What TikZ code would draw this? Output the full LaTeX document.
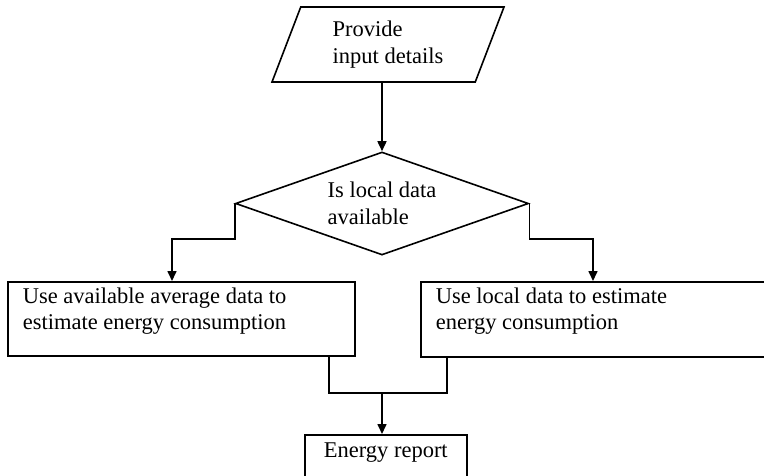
\documentclass[tikz,border=0pt]{standalone}
\usepackage{fontspec}
\setmainfont{Liberation Serif}
\usetikzlibrary{
    shapes.geometric,
    arrows.meta,
    positioning,
    calc
}

\begin{document}
\begin{tikzpicture}[
        x=1pt, y=-1pt,
        every node/.style={font=\fontsize{22.5}{26.5}\selectfont},
        inbox/.style={trapezium, draw, line width=1.6pt, trapezium left angle=58.5, trapezium right angle=121.5, trapezium stretches body, minimum width=232pt, minimum height=75pt, align=left, inner sep=0pt},
        decision/.style={diamond, draw, line width=1.6pt, aspect=2.85, minimum width=293pt, minimum height=103pt, align=left, inner sep=0pt},
        proc/.style={rectangle, draw, line width=1.6pt, anchor=north west, inner xsep=15pt, inner ysep=6pt},
        arrow/.style={-{Triangle[length=10pt, width=9pt]}, line width=1.6pt},
        link/.style={line width=1.6pt}
    ]
        \useasboundingbox (0,0) rectangle (764,475);

        \node[inbox] (input) at (388,44.5) {Provide\\input details};
        \node[decision] (avail) at (382,203.5) {Is local data\\available};
        \node[proc] (avg) at (7,281) {\parbox[t][62pt][t]{317pt}{\raggedright Use available average data to\\estimate energy consumption}};
        \node[proc] (loc) at (420,281) {\parbox[t][63pt][t]{322pt}{\raggedright Use local data to estimate\\energy consumption}};
        \node[proc, inner xsep=0pt, inner ysep=8pt] (rep) at (304,434) {\parbox[t][50pt][t]{162pt}{\centering Energy report}};

        \coordinate (lturn) at (172,239);
        \coordinate (rturn) at (593,239);
        \coordinate (ljoin) at (329,393);
        \coordinate (rjoin) at (447,393);
        \coordinate (join) at (382,393);

        \draw[arrow] (avail.north |- input.south) -- (avail.north);
        \draw[arrow] (avail.west) |- (lturn) -- (lturn |- avg.north);
        \draw[arrow] (avail.east) |- (rturn) -- (rturn |- loc.north);
        \draw[link] (ljoin |- avg.south) -- (ljoin) -- (rjoin) -- (rjoin |- loc.south);
        \draw[arrow] (join) -- (join |- rep.north);
    \end{tikzpicture}
\end{document}
